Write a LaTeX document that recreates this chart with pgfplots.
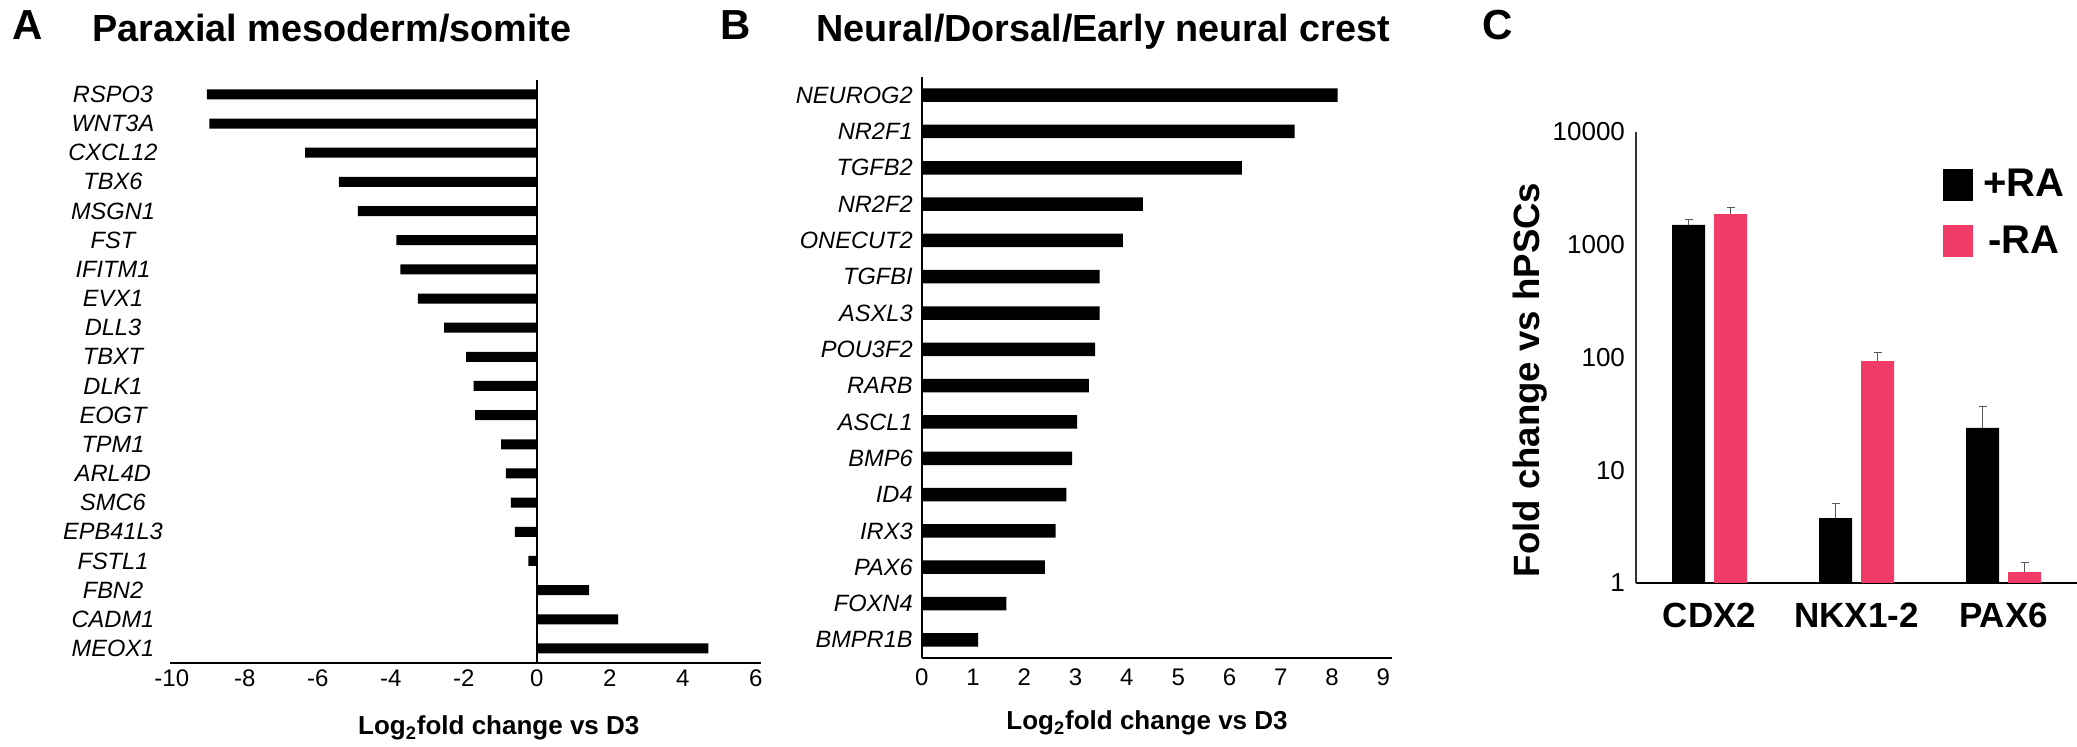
\documentclass[border=0pt]{standalone}
\usepackage{fontspec}
\setmainfont{Liberation Sans}
\usepackage{pgfplots}
\pgfplotsset{compat=1.18}
\definecolor{cMinusRA}{HTML}{F23C68}
\pgfplotsset{
  sqlegend/.style={legend image code/.code={\path[##1, draw=none] (0pt,-8pt) rectangle (15pt,8pt); \path (18pt,0pt);}},
  sderr/.style={error bars/.cd, y dir=plus, y explicit,
    error bar style={line width=0.5pt, draw=black!65},
    error mark options={rotate=90, mark size=2pt, line width=0.5pt, draw=black!65}},
}

\begin{document}
\begin{tikzpicture}
% page = 2077 x 747 px, 1 px = 0.5pt
\useasboundingbox (0,0) rectangle (1038.5pt,-373.5pt);

\node[anchor=base west, inner sep=0, font=\bfseries\fontsize{21}{24}\selectfont] at (6pt,-20pt) {A};
\node[anchor=base west, inner sep=0, font=\bfseries\fontsize{18.9}{22}\selectfont] at (46pt,-21pt) {Paraxial mesoderm/somite};
\node[anchor=base west, inner sep=0, font=\bfseries\fontsize{21}{24}\selectfont] at (360pt,-20pt) {B};
\node[anchor=base west, inner sep=0, font=\bfseries\fontsize{18.9}{22}\selectfont] at (408pt,-21pt) {Neural/Dorsal/Early neural crest};
\node[anchor=base west, inner sep=0, font=\bfseries\fontsize{21}{24}\selectfont] at (741pt,-20pt) {C};

% A: paraxial mesoderm
\begin{axis}[
  at={(85pt,-331.5pt)}, anchor=south west,
  scale only axis, width=295.65pt, height=291.6pt,
  xbar, bar width=5pt,
  xmin=-10.05, xmax=6.15, ymin=-0.5, ymax=19.5, y dir=reverse,
  enlargelimits=false,
  axis x line=bottom, axis y line=left,
  axis line style={-, line width=1pt},
  y axis line style={draw=none},
  major tick length=0pt,
  xtick={-10,-8,...,6}, xticklabels={-10,-8,-6,-4,-2,0,2,4,6},
  xticklabel style={anchor=center, yshift=-7.5pt, font=\fontsize{12}{13}\selectfont},
  extra x ticks={0}, extra x tick labels={},
  extra x tick style={grid=major, major grid style={black, line width=1pt}},
  ytick={0,...,19},
  yticklabels={RSPO3,WNT3A,CXCL12,TBX6,MSGN1,FST,IFITM1,EVX1,DLL3,TBXT,DLK1,EOGT,TPM1,ARL4D,SMC6,EPB41L3,FSTL1,FBN2,CADM1,MEOX1},
  yticklabel style={anchor=center, xshift=-28.5pt, font=\itshape\fontsize{11.8}{13}\selectfont},
  xlabel={Log\textsubscript{2}fold change vs D3},
  xlabel style={at={(rel axis cs:0.556,-0.1115)}, anchor=center, font=\bfseries\fontsize{13}{15}\selectfont},
]
\addplot[fill=black, draw=none] coordinates {
  (-9.04,0) (-8.97,1) (-6.35,2) (-5.42,3) (-4.90,4)
  (-3.85,5) (-3.74,6) (-3.26,7) (-2.54,8) (-1.94,9)
  (-1.73,10) (-1.69,11) (-0.98,12) (-0.85,13) (-0.71,14)
  (-0.60,15) (-0.23,16) (1.43,17) (2.23,18) (4.70,19)
};
\end{axis}

% B: neural / dorsal / early neural crest
\begin{axis}[
  at={(460.85pt,-329pt)}, anchor=south west,
  scale only axis, width=235.2pt, height=290.5pt,
  xbar, bar width=6.75pt,
  xmin=0, xmax=9.17, ymin=-0.5, ymax=15.5, y dir=reverse,
  enlargelimits=false,
  axis x line=bottom, axis y line=left,
  axis line style={-, line width=1pt},
  major tick length=0pt,
  xtick={0,...,9}, xticklabels={0,1,2,3,4,5,6,7,8,9},
  xticklabel style={anchor=center, yshift=-9.5pt, font=\fontsize{12}{13}\selectfont},
  ytick={0,...,15},
  yticklabels={NEUROG2,NR2F1,TGFB2,NR2F2,ONECUT2,TGFBI,ASXL3,POU3F2,RARB,ASCL1,BMP6,ID4,IRX3,PAX6,FOXN4,BMPR1B},
  yticklabel style={anchor=east, xshift=-1pt, font=\itshape\fontsize{11.8}{13}\selectfont},
  xlabel={Log\textsubscript{2}fold change vs D3},
  xlabel style={at={(rel axis cs:0.479,-0.112)}, anchor=center, font=\bfseries\fontsize{13}{15}\selectfont},
]
\addplot[fill=black, draw=none] coordinates {
  (8.11,0) (7.27,1) (6.24,2) (4.31,3) (3.92,4)
  (3.47,5) (3.47,6) (3.38,7) (3.26,8) (3.03,9)
  (2.93,10) (2.82,11) (2.61,12) (2.40,13) (1.65,14) (1.10,15)
};
\end{axis}

% C: fold change vs hPSCs, +RA / -RA
\begin{axis}[
  at={(818pt,-291.5pt)}, anchor=south west,
  scale only axis, width=220.5pt, height=225.5pt,
  ymode=log, ymin=1, ymax=10000, xmin=-0.5, xmax=2.5,
  ybar=4.5pt, bar width=16.5pt,
  axis x line=bottom, axis y line=left,
  axis line style={-},
  x axis line style={line width=1pt},
  y axis line style={line width=0.6pt, draw=black!80},
  major tick length=0pt, minor tick length=0pt,
  xtick={0,1,2}, xticklabels={CDX2,NKX1-2,PAX6},
  xticklabel style={anchor=center, yshift=-16pt, font=\bfseries\fontsize{17.5}{20}\selectfont},
  ytick={1,10,100,1000,10000}, yticklabels={1,10,100,1000,10000},
  yticklabel style={anchor=east, xshift=-2pt, font=\fontsize{13}{15}\selectfont},
  ylabel={Fold change vs hPSCs},
  ylabel style={at={(rel axis cs:-0.2404,0.45)}, anchor=center, font=\bfseries\fontsize{18.3}{20}\selectfont},
  legend style={at={(rel axis cs:0.696,0.927)}, anchor=north west, draw=none, fill=none,
    font=\bfseries\fontsize{20}{22}\selectfont, row sep=9pt, inner sep=0pt,
    nodes={inner sep=2pt}},
  legend cell align=center,
]
\addplot[fill=black, draw=none, sqlegend, sderr]
  coordinates {(0,1497) +- (0,163) (1,3.77) +- (0,1.33) (2,23.7) +- (0,13.3)};
\addlegendentry{+RA}
\addplot[fill=cMinusRA, draw=none, sqlegend, sderr]
  coordinates {(0,1870) +- (0,290) (1,93) +- (0,17) (2,1.25) +- (0,0.28)};
\addlegendentry{-RA}
\end{axis}
\end{tikzpicture}
\end{document}
